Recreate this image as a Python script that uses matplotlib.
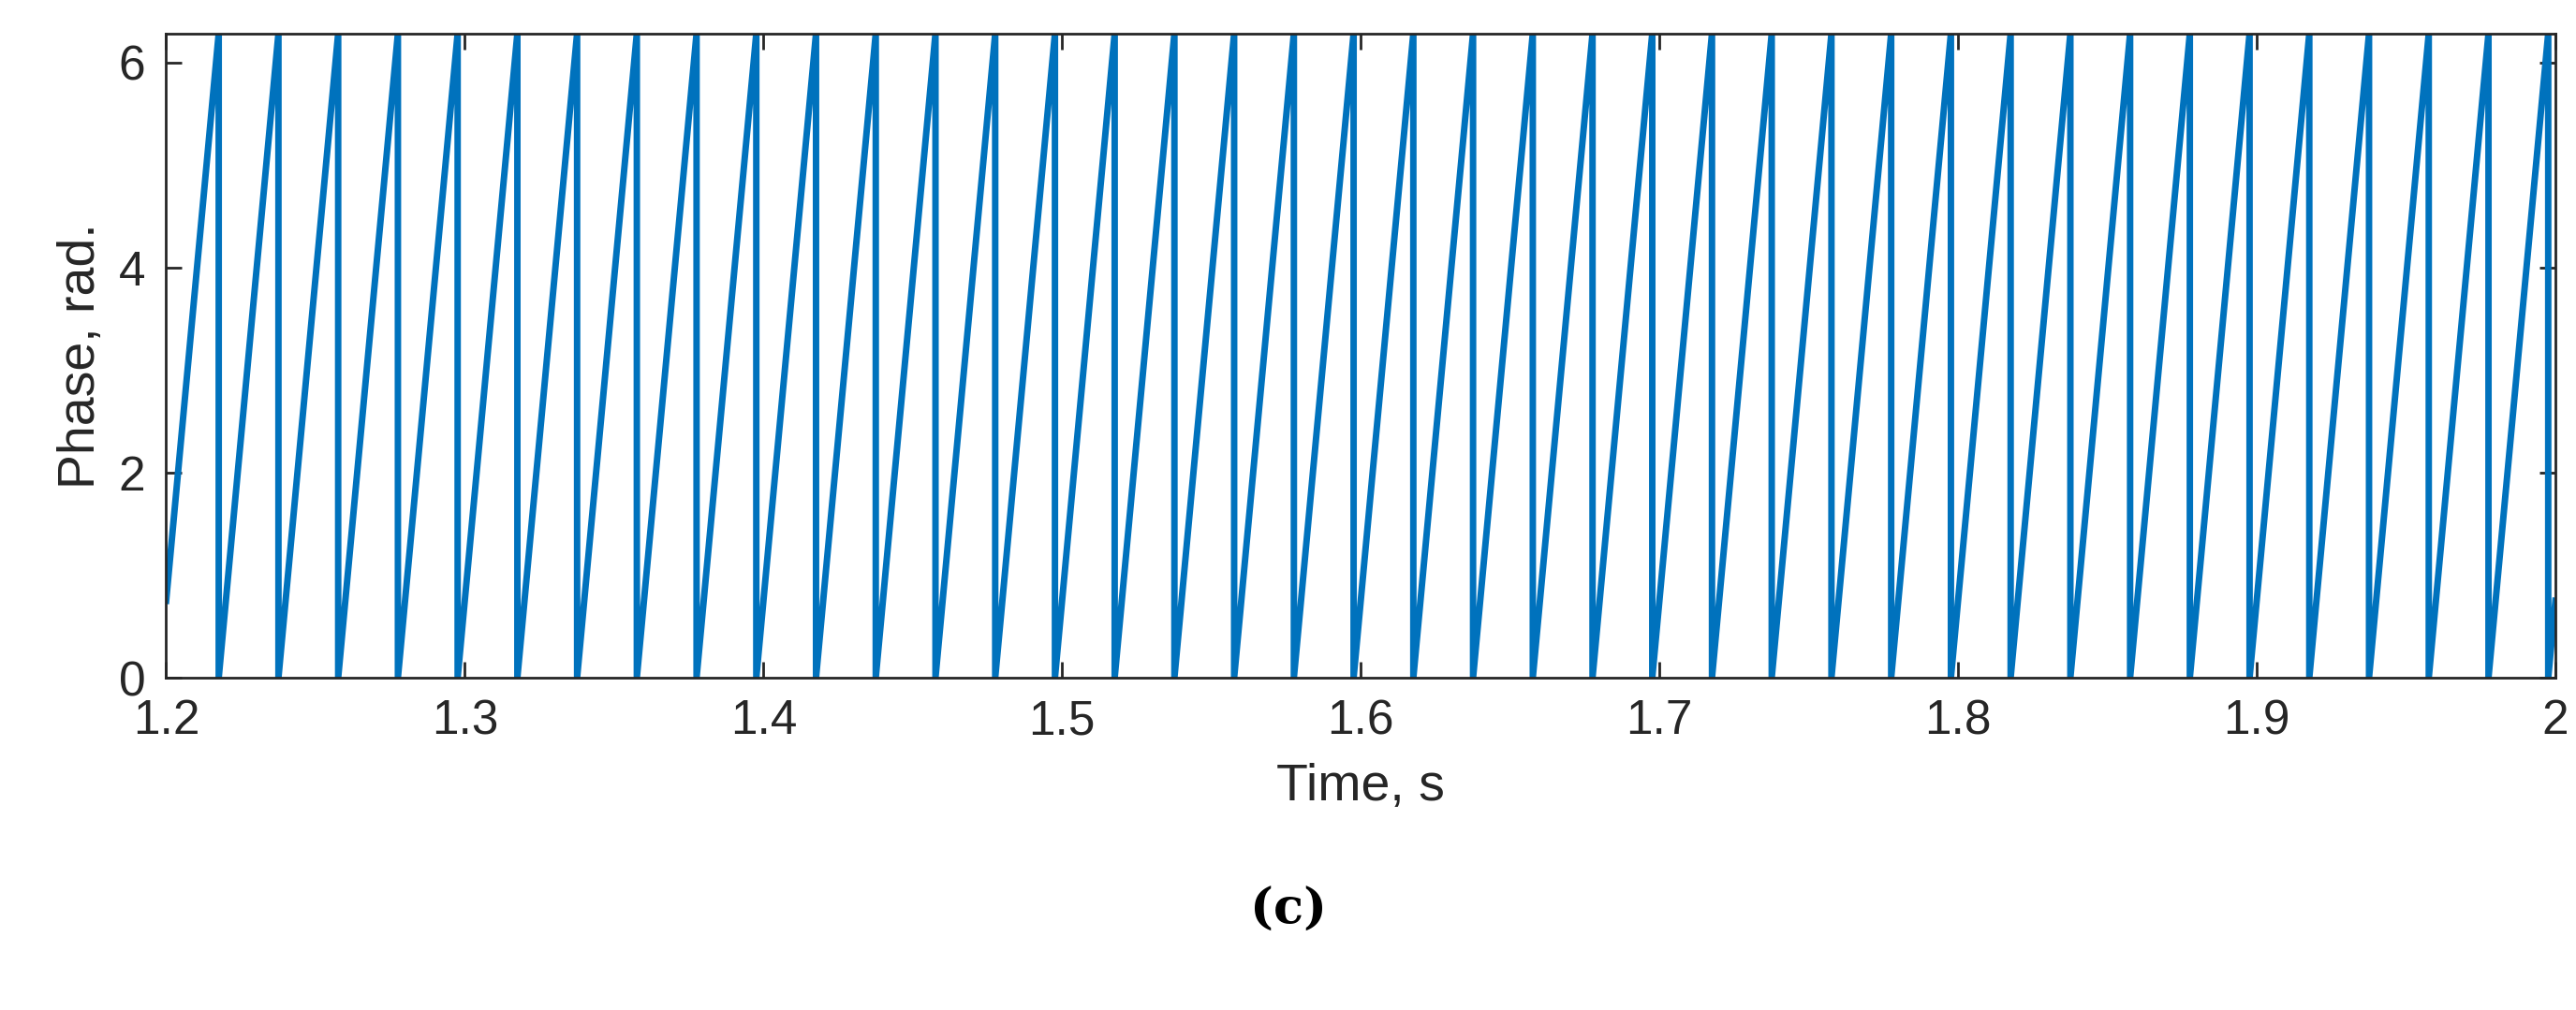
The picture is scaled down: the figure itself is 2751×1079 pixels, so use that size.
import matplotlib
matplotlib.use("Agg")
import matplotlib.pyplot as plt
import numpy as np

plt.rcParams['font.family'] = ['Liberation Sans', 'DejaVu Sans']

# wrap instants (phase returns from 2*pi to 0)
wrap_times = [1.2176, 1.2376, 1.2576, 1.2776, 1.2976, 1.3176, 1.3376, 1.3576, 1.3776, 1.3976,
              1.4176, 1.4376, 1.4576, 1.4776, 1.4976, 1.5176, 1.5376, 1.5576, 1.5776, 1.5976,
              1.6176, 1.6376, 1.6576, 1.6776, 1.6976, 1.7176, 1.7376, 1.7576, 1.7776, 1.7976,
              1.8176, 1.8376, 1.8576, 1.8776, 1.8976, 1.9176, 1.9376, 1.9576, 1.9776, 1.9976]
phase_start = 0.75
phase_end = 0.75
t_start, t_end = 1.2, 2.0
phase_max = 2 * np.pi

t, p = [t_start], [phase_start]
for w in wrap_times:
    t += [w, w]
    p += [phase_max, 0.0]
t.append(t_end); p.append(phase_end)

dark = '#262626'
fig = plt.figure(figsize=(27.51, 10.79), dpi=100)
ax = fig.add_axes([0.0645, 0.329, 0.9275, 0.638])
ax.plot(t, p, color='#0072BD', lw=5)
ax.set_xlim(1.2, 2.0)
ax.set_ylim(0, phase_max)
ax.set_xticks(np.arange(1.2, 2.01, 0.1))
ax.set_xticklabels(['1.2','1.3','1.4','1.5','1.6','1.7','1.8','1.9','2'])
ax.set_yticks([0, 2, 4, 6])
ax.tick_params(labelsize=37, direction='in', length=12, width=2, top=True, right=True,
               colors=dark)
ax.tick_params(axis='x', pad=16)
ax.tick_params(axis='y', pad=16)
for s in ax.spines.values():
    s.set_linewidth(2); s.set_color(dark)
ax.set_xlabel('Time, s', fontsize=40, labelpad=14, color=dark)
ax.set_ylabel('Phase, rad.', fontsize=40, labelpad=10, color=dark)
fig.text(0.5, 0.085, '(c)', fontsize=38, fontweight='bold', family='DejaVu Serif', ha='center')
fig.savefig('out.png', dpi=100)
